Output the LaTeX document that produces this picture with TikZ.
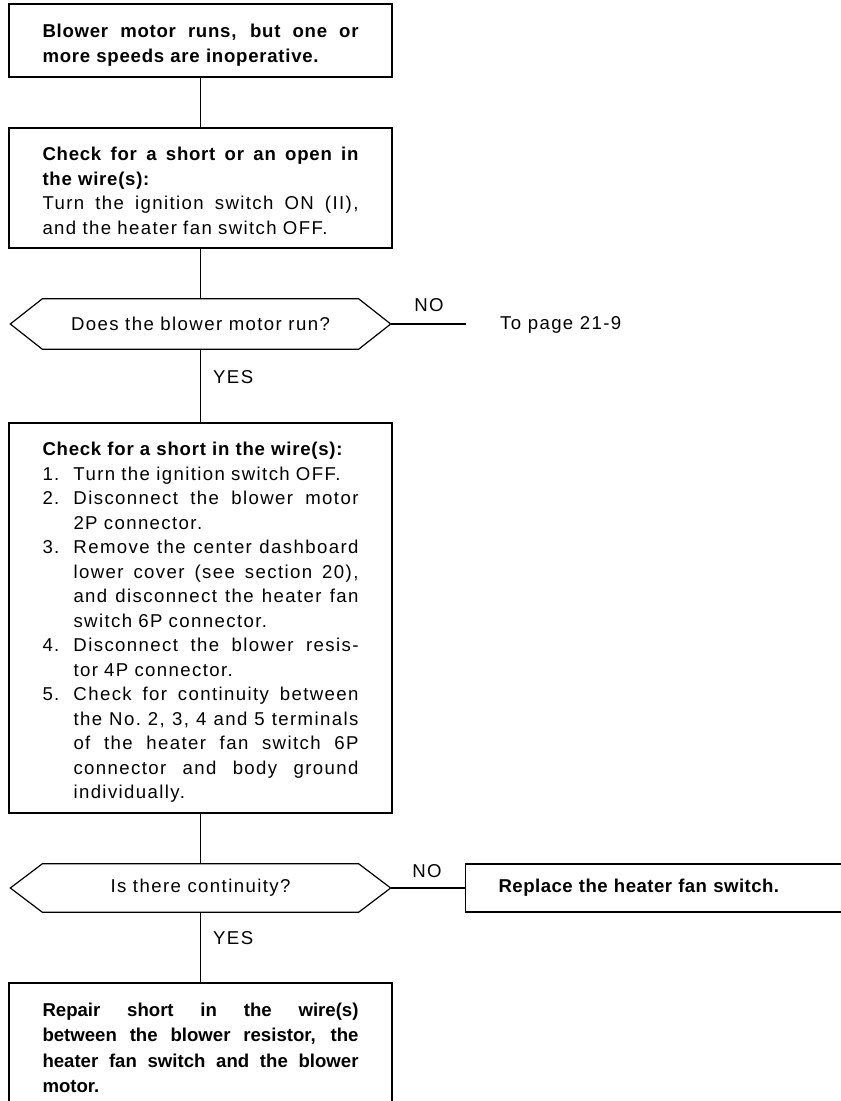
\documentclass[tikz,border=0pt]{standalone}
\usepackage{fontspec}
\setmainfont{Liberation Sans}[LetterSpace=7.5, BoldFeatures={LetterSpace=4}]
\newfontfamily\plainfont{Liberation Sans}
\newfontfamily\midfont{Liberation Sans}[LetterSpace=2.5]
\usetikzlibrary{calc}
\newcommand\J[1]{\leavevmode\hbox to 316pt{\spaceskip=\fontdimen2\font plus 1fil\relax\xspaceskip=\spaceskip #1}}
\newcommand\JI[1]{\leavevmode\hbox to 285pt{\spaceskip=\fontdimen2\font plus 1fil\relax\xspaceskip=\spaceskip #1}}
\newcommand\IT[1]{\makebox[31pt][l]{#1}}
\newcommand\IN{\hspace*{31pt}}
\newcommand\TS{\rule{0pt}{23.5pt}}
\newcommand\BS{\rule[-5pt]{0pt}{5pt}}
\begin{document}
\begin{tikzpicture}[x=1pt,y=-1pt,
  every node/.style={font=\fontsize{18.6}{24.5}\selectfont},
  box/.style={draw, line width=1.2pt, text width=316pt, inner xsep=33.5pt, inner ysep=0pt, align=left},
  hexnode/.style={minimum width=316pt, inner sep=0pt, align=center},
  hexline/.style={draw, line width=1.2pt, line join=miter},
  conn/.style={draw, line width=1.1pt},
  lbl/.style={inner sep=0pt}]
\path[use as bounding box, clip] (0,0) rectangle (841,1101);
% boxes
\node[box, minimum height=73pt] (b1) at (200.5,40.5)
 {\bfseries\TS\J{Blower motor runs, but one or}\\ more speeds are inoperative.\BS};
\node[box, minimum height=120pt] (b2) at (200.5,188)
 {\TS\textbf{\J{Check for a short or an open in}}\\ \textbf{the wire(s):}\\ \J{Turn the ignition switch ON (II),}\\ and the heater fan switch OFF.\BS};
\node[hexnode, minimum height=50pt] (hex1) at (200.5,324) {Does the blower motor run?};
\coordinate (h1l) at ($(hex1.west)+(-32,0)$);
\coordinate (h1r) at ($(hex1.east)+(32,0)$);
\draw[hexline] (h1l) -- (hex1.north west) -- (hex1.north east) -- (h1r) -- (hex1.south east) -- (hex1.south west) -- cycle;
\coordinate (n1end) at (466,324);
\node[lbl] (no1) at (429,305) {NO};
\node[lbl, anchor=west] (page) at (500,325) {To page 21-9};
\node[lbl, anchor=west] (yes1) at (213,377) {YES};
\node[box, minimum height=390pt] (b3) at (200.5,618)
 {\TS\textbf{Check for a short in the wire(s):}\\
 \IT{1.}Turn the ignition switch OFF.\\
 \IT{2.}\JI{Disconnect the blower motor}\\
 \IN 2P connector.\\
 \IT{3.}\JI{Remove the center dashboard}\\
 \IN\JI{lower cover (see section 20),}\\
 \IN\JI{and disconnect the heater fan}\\
 \IN switch 6P connector.\\
 \IT{4.}\JI{Disconnect the blower resis-}\\
 \IN tor 4P connector.\\
 \IT{5.}\JI{Check for continuity between}\\
 \IN\JI{the No. 2, 3, 4 and 5 terminals}\\
 \IN\JI{of the heater fan switch 6P}\\
 \IN\JI{connector and body ground}\\
 \IN individually.\BS};
\node[hexnode, minimum height=48pt] (hex2) at (200.5,888) {Is there continuity?};
\coordinate (h2l) at ($(hex2.west)+(-32,0)$);
\coordinate (h2r) at ($(hex2.east)+(32,0)$);
\draw[hexline] (h2l) -- (hex2.north west) -- (hex2.north east) -- (h2r) -- (hex2.south east) -- (hex2.south west) -- cycle;
\node[lbl] (no2) at (427,871) {NO};
\node[box, anchor=west, text width=334pt, inner xsep=33pt, minimum height=48pt] (rep) at (465,888)
 {\midfont\bfseries Replace the heater fan switch.};
\node[lbl, anchor=west] (yes2) at (213,938) {YES};
\node[box, minimum height=124.4pt, font=\fontsize{18.6}{25.3}\selectfont] (b4) at (200.5,1045.2)
 {\plainfont\bfseries\TS\J{Repair short in the wire(s)}\\ \J{between the blower resistor, the}\\ \J{heater fan switch and the blower}\\ motor.\BS};
% connectors
\draw[conn] (b1.south) -- (b2.north);
\draw[conn] (b2.south) -- (hex1.north);
\draw[conn] (hex1.south) -- (b3.north);
\draw[conn] (h1r) -- (n1end);
\draw[conn] (b3.south) -- (hex2.north);
\draw[conn] (h2r) -- (rep.west);
\draw[conn] (hex2.south) -- (b4.north);
\end{tikzpicture}
\end{document}
